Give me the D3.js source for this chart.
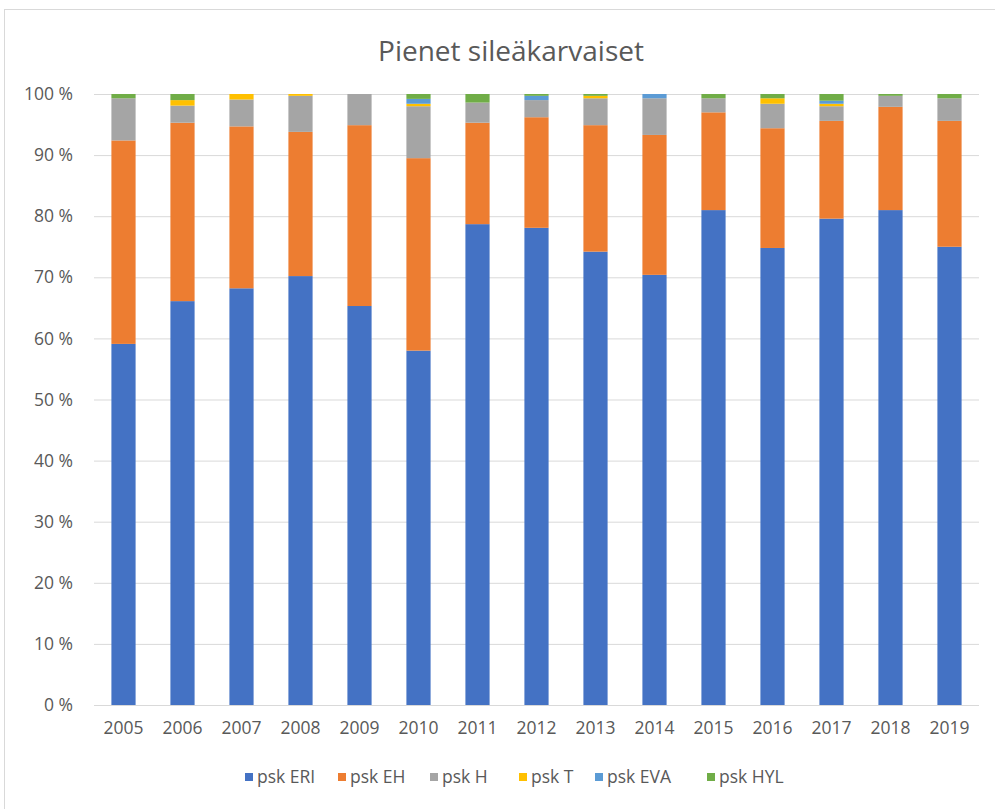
<!DOCTYPE html>
<html>
<head>
<meta charset="utf-8">
<script src="https://cdn.jsdelivr.net/npm/d3@7"></script>
<style>
  body { margin: 0; background: #fff; }
  text { font-family: "Open Sans", sans-serif; fill: #595959; }
  .axis path { display: none; }
  .axis line { display: none; }
  .grid line { stroke: #d9d9d9; stroke-width: 1; }
  .grid path { display: none; }
</style>
</head>
<body>
<div id="chart"></div>
<script>
// Data (percent shares)
var years = ["2005","2006","2007","2008","2009","2010","2011","2012","2013","2014","2015","2016","2017","2018","2019"];
var pskERI = [59.1, 66.1, 68.2, 70.2, 65.3, 58.0, 78.7, 78.1, 74.2, 70.4, 81.0, 74.8, 79.6, 81.0, 75.0];
var pskEH  = [33.3, 29.2, 26.5, 23.6, 29.6, 31.5, 16.6, 18.1, 20.7, 22.9, 16.0, 19.6, 16.0, 16.9, 20.6];
var pskH   = [6.9, 2.8, 4.4, 5.9, 5.1, 8.5, 3.3, 2.8, 4.4, 6.0, 2.3, 4.0, 2.4, 1.8, 3.7];
var pskT   = [0, 0.9, 0.9, 0.3, 0, 0.4, 0, 0, 0.4, 0, 0, 0.9, 0.4, 0, 0];
var pskEVA = [0, 0, 0, 0, 0, 0.8, 0, 0.7, 0, 0.7, 0, 0, 0.5, 0, 0];
var pskHYL = [0.7, 1.0, 0, 0, 0, 0.8, 1.4, 0.3, 0.3, 0, 0.7, 0.7, 1.1, 0.3, 0.7];
var seriesNames = ["psk ERI", "psk EH", "psk H", "psk T", "psk EVA", "psk HYL"];
var seriesColors = ["#4472C4", "#ED7D31", "#A5A5A5", "#FFC000", "#5B9BD5", "#70AD47"];
var yTicks = [0, 10, 20, 30, 40, 50, 60, 70, 80, 90, 100];

var W = 995, H = 809;
var margin = {top: 94, right: 16, bottom: 104, left: 94},
    width = W - margin.left - margin.right,
    height = H - margin.top - margin.bottom;

// build rows for the stack
var keys = ["ERI", "EH", "H", "T", "EVA", "HYL"];
var cols = [pskERI, pskEH, pskH, pskT, pskEVA, pskHYL];
var rows = years.map(function(y, i) {
    var r = {year: y};
    keys.forEach(function(k, j) { r[k] = cols[j][i]; });
    return r;
});
var stacked = d3.stack().keys(keys).offset(d3.stackOffsetExpand)(rows);

var x = d3.scaleBand().domain(years).range([0, width]).paddingInner(0.59).paddingOuter(0.295);
var y = d3.scaleLinear().domain([0, 1]).range([height, 0]);

var svg = d3.select("#chart").append("svg")
    .attr("width", W)
    .attr("height", H);

// chart frame
svg.append("rect")
    .attr("x", 4.5).attr("y", 9.5)
    .attr("width", W + 10).attr("height", H + 10)
    .attr("fill", "none")
    .attr("stroke", "#d9d9d9");

var g = svg.append("g")
    .attr("transform", "translate(" + margin.left + "," + margin.top + ")");

// gridlines
g.append("g")
    .attr("class", "grid")
    .call(d3.axisLeft(y).tickValues(yTicks.map(function(t) { return t / 100; }))
        .tickSize(-width).tickFormat(""));

// bars
g.selectAll("g.layer")
    .data(stacked)
    .enter().append("g")
    .attr("class", "layer")
    .attr("fill", function(d, i) { return seriesColors[i]; })
    .selectAll("rect")
    .data(function(d) { return d; })
    .enter().append("rect")
    .attr("x", function(d) { return x(d.data.year); })
    .attr("y", function(d) { return y(d[1]); })
    .attr("width", x.bandwidth())
    .attr("height", function(d) { return y(d[0]) - y(d[1]); });

// y axis
g.append("g")
    .attr("class", "axis")
    .call(d3.axisLeft(y).tickValues(yTicks.map(function(t) { return t / 100; }))
        .tickSize(0).tickPadding(21)
        .tickFormat(function(d) { return Math.round(d * 100) + " %"; }))
    .selectAll("text")
    .style("font-size", "17.5px");

// x axis
g.append("g")
    .attr("class", "axis")
    .attr("transform", "translate(0," + height + ")")
    .call(d3.axisBottom(x).tickSize(0).tickPadding(17))
    .selectAll("text")
    .style("font-size", "17.5px");

// title
svg.append("text")
    .attr("x", 511)
    .attr("y", 61)
    .attr("text-anchor", "middle")
    .style("font-size", "28px")
    .text("Pienet sileäkarvaiset");

// legend
var legendX = [245, 338, 430, 519, 595, 707];
var legend = svg.selectAll("g.legend")
    .data(seriesNames)
    .enter().append("g")
    .attr("class", "legend")
    .attr("transform", function(d, i) { return "translate(" + legendX[i] + ",777)"; });
legend.append("rect")
    .attr("x", 0).attr("y", -4)
    .attr("width", 8).attr("height", 8)
    .attr("fill", function(d, i) { return seriesColors[i]; });
legend.append("text")
    .attr("x", 12)
    .attr("dy", "0.35em")
    .style("font-size", "17.5px")
    .text(function(d) { return d; });
</script>
</body>
</html>
